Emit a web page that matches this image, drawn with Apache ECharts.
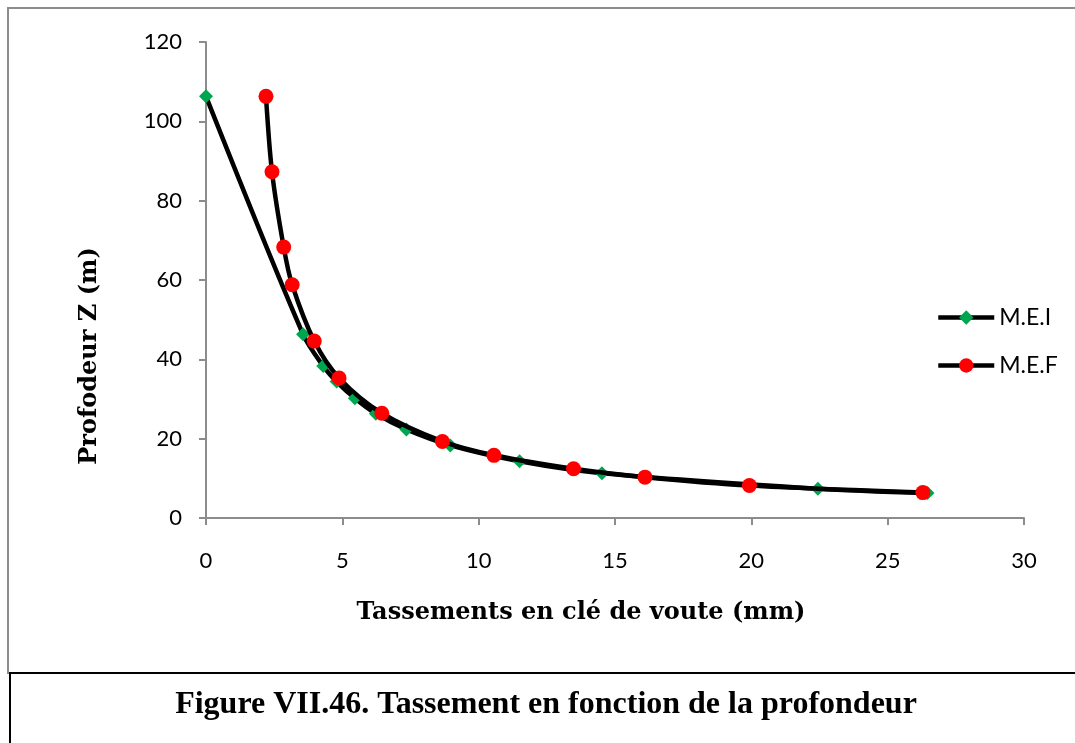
<!DOCTYPE html>
<html>
<head>
<meta charset="utf-8">
<script src="https://cdn.jsdelivr.net/npm/echarts@6/dist/echarts.min.js"></script>
<style>html,body{margin:0;padding:0;background:#fff;}#chart{width:1075px;height:743px;}</style>
</head>
<body>
<div id="chart"></div>
<script>
const meiX = [0, 3.56, 4.30, 4.79, 5.46, 6.23, 7.35, 8.96, 11.5, 14.52, 22.44, 26.46];
const meiZ = [106.3, 46.3, 38.3, 34.4, 30.2, 26.3, 22.3, 18.3, 14.3, 11.3, 7.4, 6.3];
const mefX = [2.20, 2.42, 2.85, 3.16, 3.97, 4.88, 6.45, 8.67, 10.56, 13.48, 16.1, 19.93, 26.29];
const mefZ = [106.3, 87.3, 68.3, 58.8, 44.6, 35.3, 26.4, 19.3, 15.8, 12.4, 10.3, 8.2, 6.4];
const seriesNames = ['M.E.I', 'M.E.F'];
const xTitle = 'Tassements en clé de voute (mm)';
const yTitle = 'Profodeur Z (m)';
const caption = 'Figure VII.46. Tassement en fonction de la profondeur';

const pair = (xs, ys) => xs.map((x, i) => [x, ys[i]]);
const chart = echarts.init(document.getElementById('chart'));
const labelFont = 'Lato, "Open Sans", sans-serif';
chart.setOption({
  animation: false,
  backgroundColor: '#fff',
  grid: { left: 206, right: 51, top: 42, bottom: 225 },
  xAxis: {
    type: 'value', min: 0, max: 30, interval: 5,
    axisLine: { show: true, lineStyle: { color: '#8c8c8c', width: 2 } },
    axisTick: { show: true, length: 7, lineStyle: { color: '#8c8c8c', width: 2 } },
    splitLine: { show: false },
    axisLabel: { color: '#000', fontSize: 22, fontFamily: labelFont, margin: 32 }
  },
  yAxis: {
    type: 'value', min: 0, max: 120, interval: 20,
    axisLine: { show: true, lineStyle: { color: '#8c8c8c', width: 2 } },
    axisTick: { show: true, length: 7, lineStyle: { color: '#8c8c8c', width: 2 } },
    splitLine: { show: false },
    axisLabel: { color: '#000', fontSize: 22, fontFamily: labelFont, margin: 24 }
  },
  legend: {
    orient: 'vertical', left: 936, top: 306, padding: 0,
    itemWidth: 56, itemHeight: 18, itemGap: 25,
    lineStyle: { width: 4.5, color: '#000' },
    textStyle: { color: '#000', fontSize: 23, fontFamily: labelFont },
    data: seriesNames
  },
  series: [
    {
      name: seriesNames[0], type: 'line', data: pair(meiX, meiZ), smooth: 0.3,
      symbol: 'diamond', symbolSize: 14,
      lineStyle: { color: '#000', width: 4.5 },
      itemStyle: { color: '#00a550', borderWidth: 0 },
      z: 2
    },
    {
      name: seriesNames[1], type: 'line', data: pair(mefX, mefZ), smooth: 0.3,
      symbol: 'circle', symbolSize: 15,
      lineStyle: { color: '#000', width: 4.5 },
      itemStyle: { color: '#ff0000', borderWidth: 0 },
      z: 3
    }
  ],
  graphic: [
    { type: 'rect', z: -1, shape: { x: 8, y: 8, width: 1100, height: 665 }, style: { fill: 'none', stroke: '#8c8c8c', lineWidth: 2 } },
    { type: 'rect', z: 10, shape: { x: 10, y: 673, width: 1100, height: 100 }, style: { fill: '#fff', stroke: '#000', lineWidth: 2 } },
    { type: 'text', z: 11, x: 546, y: 705, style: { text: caption, align: 'center', verticalAlign: 'middle', fill: '#000', font: 'bold 32px "Liberation Serif", "Times New Roman", serif' } },
    { type: 'text', x: 581, y: 613, style: { text: xTitle, align: 'center', verticalAlign: 'middle', fill: '#000', font: 'bold 24px "DejaVu Serif", serif' } },
    { type: 'text', x: 90, y: 356, rotation: Math.PI / 2, style: { text: yTitle, align: 'center', verticalAlign: 'middle', fill: '#000', font: 'bold 24px "DejaVu Serif", serif' } }
  ]
});
</script>
</body>
</html>
